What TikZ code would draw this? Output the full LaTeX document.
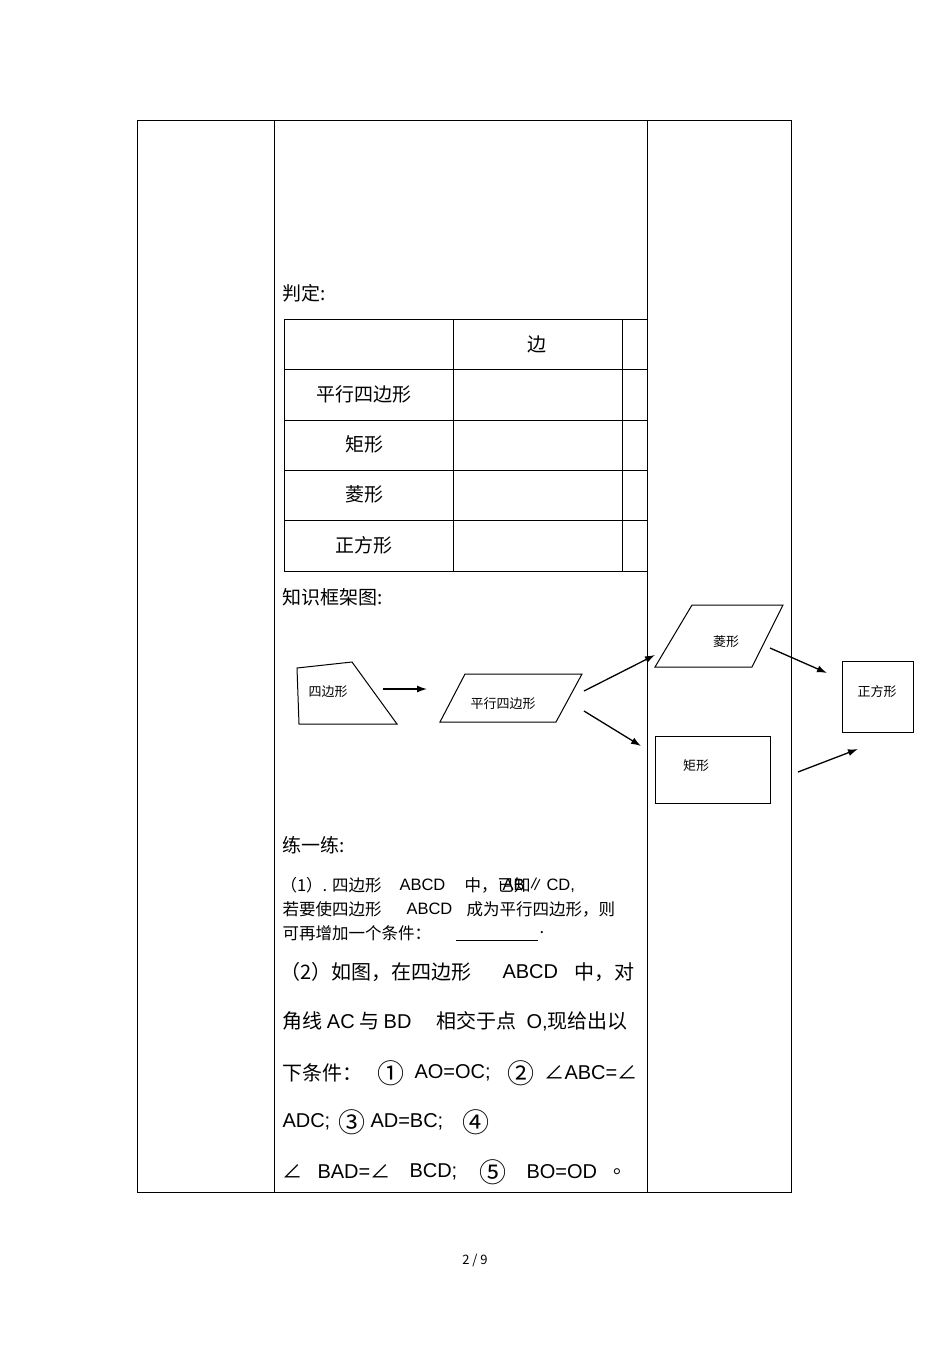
\documentclass[tikz,border=0pt]{standalone}
\usepackage{fontspec}
\setmainfont{Noto Sans CJK SC}
\newfontfamily\lat{Liberation Sans}
\usetikzlibrary{arrows.meta}
\begin{document}
\begin{tikzpicture}[x=1pt,y=-1pt,line width=1pt,
  t/.style={anchor=west,inner sep=0pt,font=\fontsize{19}{20}\selectfont},
  b/.style={anchor=west,inner sep=0pt,font=\fontsize{20}{22}\selectfont},
  c/.style={anchor=west,inner sep=0pt,font=\fontsize{27}{28}\selectfont},
  s/.style={anchor=west,inner sep=0pt,font=\fontsize{16.5}{18}\selectfont},
  lab/.style={inner sep=0pt,font=\fontsize{13}{15}\selectfont},
  arr/.style={-{Latex[length=10pt,width=7pt]},line width=1.3pt}]
\useasboundingbox (0,0) rectangle (950,1345);
% outer table
\draw (137,120) rectangle (791,1192);
\draw (274,120) -- (274,1192);
\draw (647,120) -- (647,1192);
% inner table
\draw (647,319) -- (284,319) -- (284,571) -- (647,571);
\foreach \y in {369,420,470,520} \draw (284,\y) -- (647,\y);
\draw (453,319) -- (453,571);
\draw (622,319) -- (622,571);
\node[t] (pd) at (282,293) {判定:};
\node[t,anchor=center] at (537,344) {边};
\node[t,anchor=center] (r1) at (364,394) {平行四边形};
\node[t,anchor=center] (r2) at (364,444) {矩形};
\node[t,anchor=center] (r3) at (364,494) {菱形};
\node[t,anchor=center] (r4) at (364,545) {正方形};
\node[t] (zs) at (282,597) {知识框架图:};
% shapes
\draw (297,668) -- (352,662) -- (397,724) -- (299,724) -- cycle;
\node[lab] (q) at (328,692) {四边形};
\draw (465,674) -- (582,674) -- (556,722) -- (440,722) -- cycle;
\node[lab] (p) at (503,704) {平行四边形};
\draw (692,605) -- (783,605) -- (752,667) -- (655,667) -- cycle;
\node[lab] (lx) at (726,642) {菱形};
\draw (655,736) rectangle (770,803);
\node[lab] (jx) at (696,766) {矩形};
\draw (842,661) rectangle (913,732);
\node[lab] (zf) at (877,692) {正方形};
\coordinate (a1) at (383,689); \coordinate (b1) at (427,689);
\coordinate (a2) at (584,691); \coordinate (b2) at (655,655);
\coordinate (a3) at (584,711); \coordinate (b3) at (641,746);
\coordinate (a4) at (770,648); \coordinate (b4) at (827,673);
\coordinate (a5) at (798,772); \coordinate (b5) at (858,749);
\draw[arr] (a1) -- (b1);
\draw[arr] (a2) -- (b2);
\draw[arr] (a3) -- (b3);
\draw[arr] (a4) -- (b4);
\draw[arr] (a5) -- (b5);
% practice
\node[t] (ly) at (282,845) {练一练:};
\node[s] at (280,885) {（1）. 四边形};
\node[s] at (399,885) {\lat ABCD};
\node[s] at (464,885) {中，已知};
\node[s] at (502,885) {{\lat AB}\,∥\,{\lat CD,}};
\node[s] at (282,909) {若要使四边形};
\node[s] at (406,909) {\lat ABCD};
\node[s] at (466,909) {成为平行四边形，则};
\node[s] (c3) at (282,933) {可再增加一个条件：};
\draw[line width=0.8pt] (456,940) -- (538,940);
\node[s] at (539,933) {.};
\node[b] at (280,972) {（2）如图，在四边形};
\node[b] at (502,972) {\lat ABCD};
\node[b] at (574,972) {中，对};
\node[b] at (282,1021) {角线 {\lat AC} 与 {\lat BD}};
\node[b] at (436,1021) {相交于点};
\node[b] at (526,1021) {{\lat O,}现给出以};
\node[b] at (282,1073) {下条件：};
\node[c] at (377,1073) {①};
\node[b] at (414,1073) {\lat AO=OC;};
\node[c] at (507,1073) {②};
\node[b] at (544,1073) {∠{\lat ABC=}∠};
\node[b] at (282,1122) {\lat ADC;};
\node[c] at (338,1122) {③};
\node[b] at (370,1122) {\lat AD=BC;};
\node[c] at (462,1122) {④};
\node[b] at (282,1172) {∠};
\node[b] at (317,1172) {{\lat BAD=}∠};
\node[b] at (409,1172) {\lat BCD;};
\node[c] at (479,1172) {⑤};
\node[b] at (526,1172) {\lat BO=OD};
\node[b] at (613,1172) {。};
\node[lab] (pg) at (475,1260) {2\ /\ 9};
\end{tikzpicture}
\end{document}
